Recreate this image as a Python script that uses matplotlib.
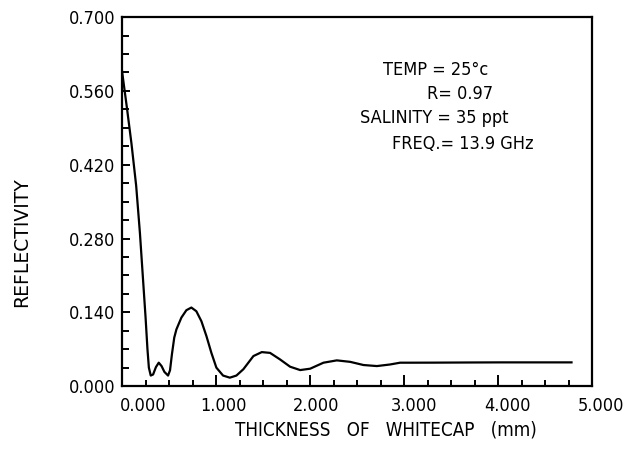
import matplotlib
matplotlib.use("Agg")
import matplotlib.pyplot as plt
import matplotlib.transforms as mtransforms
from matplotlib.ticker import MultipleLocator

# whitecap thickness (mm) vs reflectivity
thickness = [0.0, 0.05, 0.10, 0.15, 0.19, 0.22, 0.25, 0.27, 0.285, 0.305,
             0.33, 0.36, 0.39, 0.42, 0.45, 0.489, 0.51, 0.53, 0.555, 0.578,
             0.631, 0.684, 0.737, 0.79, 0.844, 0.897, 0.95, 1.003, 1.074, 1.146,
             1.216, 1.29, 1.397, 1.486, 1.574, 1.68, 1.787, 1.894, 2.0, 2.142,
             2.284, 2.426, 2.567, 2.71, 2.85, 2.957, 3.06, 3.31, 3.7, 4.02,
             4.4, 4.78]
reflectivity = [0.597, 0.53, 0.46, 0.38, 0.29, 0.21, 0.13, 0.07, 0.035, 0.020,
                0.022, 0.036, 0.0444, 0.038, 0.027, 0.020, 0.030, 0.060, 0.092, 0.1076,
                0.130, 0.144, 0.149, 0.142, 0.123, 0.095, 0.063, 0.035, 0.020, 0.016,
                0.020, 0.032, 0.057, 0.0645, 0.063, 0.0506, 0.0368, 0.0304, 0.033, 0.0444,
                0.0488, 0.046, 0.040, 0.038, 0.041, 0.0444, 0.0444, 0.0445, 0.0448, 0.045,
                0.045, 0.045]

x_ticks = [0, 1, 2, 3, 4, 5]
x_tick_labels = ["0.000", "1.000", "2.000", "3.000", "4.000", "5.000"]
y_ticks = [0.0, 0.14, 0.28, 0.42, 0.56, 0.70]
y_tick_labels = ["0.000", "0.140", "0.280", "0.420", "0.560", "0.700"]

# the printed x labels sit a bit right of their ticks (points)
label_shift = [15, 5, 4, 7, 7, 6]

plt.rcParams["font.family"] = ["DejaVu Sans"]
plt.rcParams["font.stretch"] = "condensed"

fig = plt.figure(figsize=(6.26, 4.5), dpi=100)
ax = fig.add_axes([0.195, 0.142, 0.751, 0.820])

ax.plot(thickness, reflectivity, color="black", linewidth=1.6)

ax.set_xlim(0, 5.0)
ax.set_ylim(0, 0.7)
for s in ax.spines.values():
    s.set_linewidth(1.6)

ax.set_xticks(x_ticks)
ax.set_xticklabels(x_tick_labels, fontsize=13)
ax.set_yticks(y_ticks)
ax.set_yticklabels(y_tick_labels, fontsize=13)
ax.xaxis.set_minor_locator(MultipleLocator(0.25))
ax.yaxis.set_minor_locator(MultipleLocator(0.035))
ax.tick_params(which="both", direction="in", top=False, right=False, width=1.4)
ax.tick_params(axis="x", which="major", length=8, pad=8)
ax.tick_params(axis="x", which="minor", length=4)
ax.tick_params(axis="y", which="major", length=6, pad=5)
ax.tick_params(axis="y", which="minor", length=5)

for lab, dx in zip(ax.get_xticklabels(), label_shift):
    lab.set_transform(lab.get_transform() +
                      mtransforms.ScaledTranslation(dx / 72, 0, fig.dpi_scale_trans))

ax.text(0.555, 0.856, "TEMP = 25°c", transform=ax.transAxes, fontsize=13, va="center")
ax.text(0.649, 0.791, "R= 0.97", transform=ax.transAxes, fontsize=13, va="center")
ax.text(0.506, 0.726, "SALINITY = 35 ppt", transform=ax.transAxes, fontsize=13, va="center")
ax.text(0.574, 0.656, "FREQ.= 13.9 GHz", transform=ax.transAxes, fontsize=13, va="center")

fig.text(0.617, 0.044, "THICKNESS   OF   WHITECAP   (mm)", fontsize=13.5,
         ha="center", va="center")
fig.text(0.035, 0.462, "REFLECTIVITY", fontsize=13.5, rotation=90,
         ha="center", va="center", fontstretch="normal")

plt.savefig("out.png", dpi=100)
